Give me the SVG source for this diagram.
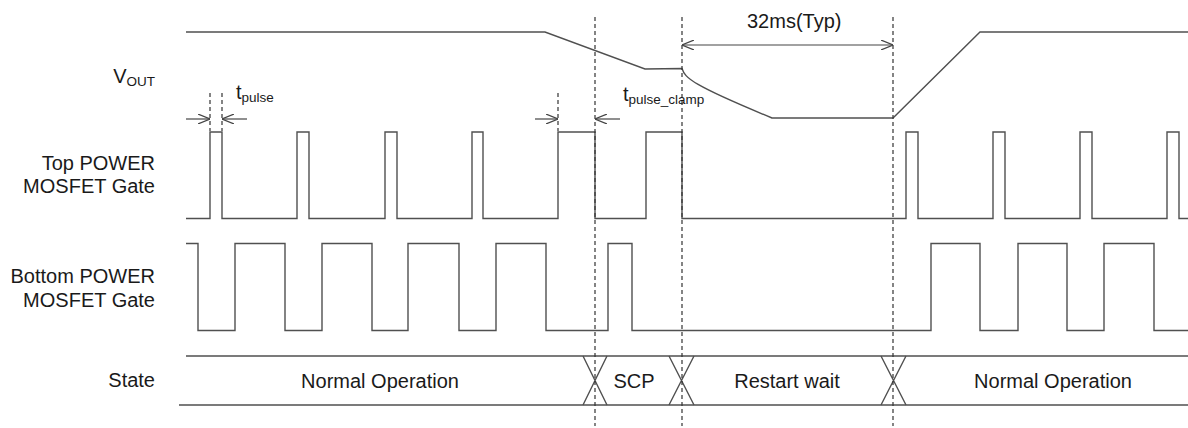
<svg xmlns="http://www.w3.org/2000/svg" width="1188" height="428" viewBox="0 0 1188 428">
<defs>
<marker id="arr" viewBox="0 0 12 10" refX="12" refY="5" markerWidth="12" markerHeight="10" markerUnits="userSpaceOnUse" orient="auto-start-reverse">
<polyline points="0,0 12,5 0,10" fill="none" stroke="#444" stroke-width="1.2"/>
</marker>
</defs>
<style>
.lbl{font-family:"Liberation Sans",Arial,sans-serif;font-size:20px;fill:#1a1a1a}
.sub{font-size:13.5px}
.wave{fill:none;stroke:#505050;stroke-width:1.4}
.dash{fill:none;stroke:#333;stroke-width:1.2;stroke-dasharray:4 3}
.dim{fill:none;stroke:#444;stroke-width:1.2}
</style>
<rect width="1188" height="428" fill="#fff"/>
<g id="labels">
<text class="lbl" x="155" y="83" text-anchor="end">V<tspan class="sub" dy="3">OUT</tspan></text>
<text class="lbl" x="155" y="170" text-anchor="end">Top POWER</text>
<text class="lbl" x="155" y="193" text-anchor="end">MOSFET Gate</text>
<text class="lbl" x="155" y="283" text-anchor="end">Bottom POWER</text>
<text class="lbl" x="155" y="307" text-anchor="end">MOSFET Gate</text>
<text class="lbl" x="155" y="387" text-anchor="end">State</text>
</g>
<g id="vout">
<path class="wave" d="M186,32 H545 L645,69 L682,68.5 C685,78 692,85 772,118 H893 L980,32 H1188"/>
</g>
<g id="top-gate">
<path class="wave" d="M186,218.5 H210 V132 H222 V218.5 H297 V132 H309 V218.5 H385 V132 H397 V218.5 H472 V132 H483 V218.5 H558 V132 H595 V218.5 H646 V132 H682 V218.5 H906 V132 H918 V218.5 H993 V132 H1005 V218.5 H1080 V132 H1092 V218.5 H1167 V132 H1179 V218.5 H1188"/>
</g>
<g id="bottom-gate">
<path class="wave" d="M186,243.5 H198 V330.5 H235 V243.5 H285 V330.5 H322 V243.5 H372 V330.5 H408 V243.5 H459 V330.5 H496 V243.5 H546 V330.5 H608 V243.5 H632 V330.5 H931 V243.5 H980 V330.5 H1018 V243.5 H1067 V330.5 H1104 V243.5 H1154 V330.5 H1188"/>
</g>
<g id="state">
<path class="wave" d="M186,356 H1188 M179,405 H1188"/>
<path class="wave" d="M583,356 L607,405 M607,356 L583,405 M669,356 L694,405 M694,356 L669,405 M881,356 L906,405 M906,356 L881,405"/>
<text class="lbl" x="380" y="388" text-anchor="middle">Normal Operation</text>
<text class="lbl" x="634" y="388" text-anchor="middle">SCP</text>
<text class="lbl" x="787" y="388" text-anchor="middle">Restart wait</text>
<text class="lbl" x="1053" y="388" text-anchor="middle">Normal Operation</text>
</g>
<g id="connectors">
<path class="dash" d="M595,17 V426 M682,17 V426 M893,17 V426 M210,93 V131 M222,93 V131 M558,93 V131"/>
<line class="dim" x1="682" y1="45" x2="893" y2="45" marker-start="url(#arr)" marker-end="url(#arr)"/>
<line class="dim" x1="186" y1="119" x2="210" y2="119" marker-end="url(#arr)"/>
<line class="dim" x1="247" y1="119" x2="222" y2="119" marker-end="url(#arr)"/>
<line class="dim" x1="535" y1="119" x2="558" y2="119" marker-end="url(#arr)"/>
<line class="dim" x1="620" y1="119" x2="595" y2="119" marker-end="url(#arr)"/>
<text class="lbl" x="747" y="28">32ms(Typ)</text>
<text class="lbl" x="236" y="99">t<tspan class="sub" dy="3">pulse</tspan></text>
<text class="lbl" x="623" y="101">t<tspan class="sub" dy="3">pulse_clamp</tspan></text>
</g>
</svg>
